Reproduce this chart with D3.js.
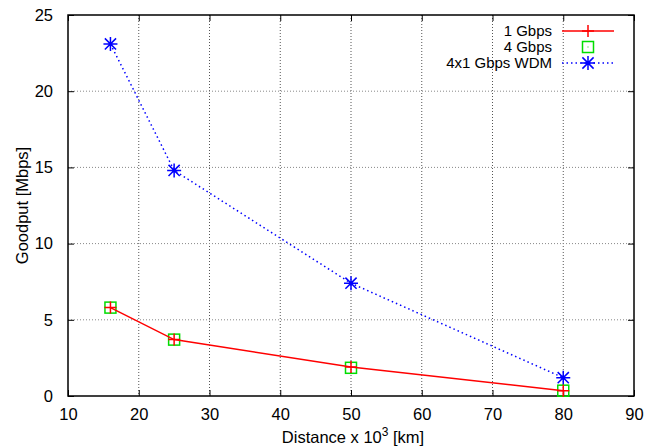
<!DOCTYPE html>
<html>
<head>
<meta charset="utf-8">
<script src="https://cdn.jsdelivr.net/npm/d3@7"></script>
<style>
  body { margin: 0; background: #fff; }
  text { font-family: "Liberation Sans", Arial, sans-serif; font-size: 16.5px; fill: #000; }
</style>
</head>
<body>
<div id="viz"></div>
<script>
// data
var distances = [16, 25, 50, 80];
var gbps1 = [5.8, 3.7, 1.9, 0.35];
var gbps4 = [5.8, 3.7, 1.85, 0.35];
var wdm = [23.1, 14.8, 7.4, 1.2];
var xTicks = [10, 20, 30, 40, 50, 60, 70, 80, 90];
var yTicks = [0, 5, 10, 15, 20, 25];

var W = 657, H = 448;
var margin = {top: 15, right: 23, bottom: 52, left: 68};
var width = W - margin.left - margin.right;
var height = H - margin.top - margin.bottom;

var svg = d3.select("#viz").append("svg")
    .attr("width", W)
    .attr("height", H);

var g = svg.append("g")
    .attr("transform", "translate(" + margin.left + "," + margin.top + ")");

var x = d3.scaleLinear().domain([10, 90]).range([0, width]);
var y = d3.scaleLinear().domain([0, 25]).range([height, 0]);

// grid
g.append("g").selectAll("line")
    .data(xTicks.slice(1, -1))
    .enter().append("line")
    .attr("x1", function(d) { return x(d); })
    .attr("x2", function(d) { return x(d); })
    .attr("y1", 0).attr("y2", height)
    .attr("stroke", "#555").attr("stroke-width", 1)
    .attr("stroke-dasharray", "1,2");

g.append("g").selectAll("line")
    .data(yTicks.slice(1, -1))
    .enter().append("line")
    .attr("x1", 0).attr("x2", width)
    .attr("y1", function(d) { return y(d); })
    .attr("y2", function(d) { return y(d); })
    .attr("stroke", "#888").attr("stroke-width", 1)
    .attr("stroke-dasharray", "1,2");

// axes, ticks inside, mirrored
var tk = 6;
var xb = g.append("g").attr("transform", "translate(0," + height + ")")
    .call(d3.axisBottom(x).tickValues(xTicks).tickSize(-tk).tickPadding(12));
var xt = g.append("g")
    .call(d3.axisTop(x).tickValues(xTicks).tickSize(-tk).tickFormat(""));
var yl = g.append("g")
    .call(d3.axisLeft(y).tickValues(yTicks).tickSize(-tk).tickPadding(15));
var yr = g.append("g").attr("transform", "translate(" + width + ",0)")
    .call(d3.axisRight(y).tickValues(yTicks).tickSize(-tk).tickFormat(""));

[xb, xt, yl, yr].forEach(function(a) {
  a.select(".domain").remove();
  a.selectAll("line").attr("stroke", "#000");
  a.selectAll("text").style("font-size", "16.5px").attr("font-family", null);
});

g.append("rect")
    .attr("width", width).attr("height", height)
    .attr("fill", "none").attr("stroke", "#000").attr("stroke-width", 1.5);

// axis titles
var xl = svg.append("text")
    .attr("x", margin.left + width / 2 + 2)
    .attr("y", 443)
    .attr("text-anchor", "middle");
xl.append("tspan").text("Distance x 10");
xl.append("tspan").attr("dy", -7).style("font-size", "12px").text("3");
xl.append("tspan").attr("dy", 7).text(" [km]");

svg.append("text")
    .attr("transform", "translate(28," + (margin.top + height / 2) + ") rotate(-90)")
    .attr("text-anchor", "middle")
    .text("Goodput [Mbps]");

// marker helpers
function plusPath(s) {
  return "M" + (-s) + ",0H" + s + "M0," + (-s) + "V" + s;
}
function starPath(s) {
  var d = s * 0.8;
  return plusPath(s) + "M" + (-d) + "," + (-d) + "L" + d + "," + d + "M" + (-d) + "," + d + "L" + d + "," + (-d);
}

var line = d3.line()
    .x(function(d) { return x(d[0]); })
    .y(function(d) { return y(d[1]); });

var pts1 = distances.map(function(d, i) { return [d, gbps1[i]]; });
var pts4 = distances.map(function(d, i) { return [d, gbps4[i]]; });
var ptsW = distances.map(function(d, i) { return [d, wdm[i]]; });

var red = "#ff0000", green = "#00dd00", blue = "#0000ff";

// WDM series
g.append("path").datum(ptsW).attr("d", line)
    .attr("fill", "none").attr("stroke", blue).attr("stroke-width", 1.5)
    .attr("stroke-dasharray", "1.5,3");
g.append("g").selectAll("path").data(ptsW).enter().append("path")
    .attr("transform", function(d) { return "translate(" + x(d[0]) + "," + y(d[1]) + ")"; })
    .attr("d", starPath(7)).attr("stroke", blue).attr("stroke-width", 1.5).attr("fill", "none");

// 4 Gbps points
g.append("g").selectAll("rect").data(pts4).enter().append("rect")
    .attr("x", function(d) { return x(d[0]) - 5.5; })
    .attr("y", function(d) { return y(d[1]) - 5.5; })
    .attr("width", 11).attr("height", 11)
    .attr("fill", "none").attr("stroke", green).attr("stroke-width", 1.5);

// 1 Gbps series
g.append("path").datum(pts1).attr("d", line)
    .attr("fill", "none").attr("stroke", red).attr("stroke-width", 1.5);
g.append("g").selectAll("path").data(pts1).enter().append("path")
    .attr("transform", function(d) { return "translate(" + x(d[0]) + "," + y(d[1]) + ")"; })
    .attr("d", plusPath(6)).attr("stroke", red).attr("stroke-width", 1.5);

// legend
var legendNames = ["1 Gbps", "4 Gbps", "4x1 Gbps WDM"];
var lg = svg.append("g");
var rowY = [31, 47, 63];
lg.selectAll("text").data(legendNames).enter().append("text")
    .attr("x", 552).attr("y", function(d, i) { return rowY[i]; })
    .attr("dy", "0.35em").attr("text-anchor", "end")
    .style("font-size", "15px")
    .text(function(d) { return d; });

lg.append("line").attr("x1", 562).attr("x2", 614).attr("y1", rowY[0]).attr("y2", rowY[0])
    .attr("stroke", red).attr("stroke-width", 1.5);
lg.append("path").attr("transform", "translate(588," + rowY[0] + ")")
    .attr("d", plusPath(6)).attr("stroke", red).attr("stroke-width", 1.5);

lg.append("rect").attr("x", 582.5).attr("y", rowY[1] - 5.5).attr("width", 11).attr("height", 11)
    .attr("fill", "none").attr("stroke", green).attr("stroke-width", 1.5);
lg.append("rect").attr("x", 587.5).attr("y", rowY[1] - 0.5).attr("width", 1).attr("height", 1)
    .attr("fill", green);

lg.append("line").attr("x1", 562).attr("x2", 614).attr("y1", rowY[2]).attr("y2", rowY[2])
    .attr("stroke", blue).attr("stroke-width", 1.5).attr("stroke-dasharray", "1.5,3");
lg.append("path").attr("transform", "translate(588," + rowY[2] + ")")
    .attr("d", starPath(7)).attr("stroke", blue).attr("stroke-width", 1.5).attr("fill", "none");
</script>
</body>
</html>
